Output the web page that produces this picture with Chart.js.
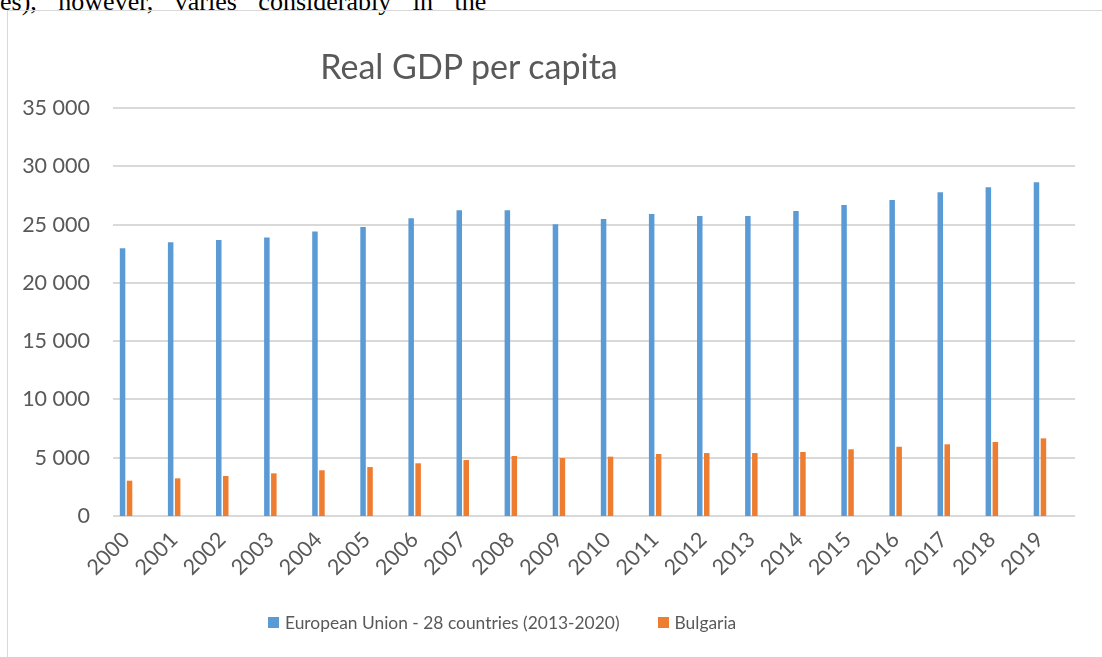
<!DOCTYPE html>
<html>
<head>
<meta charset="utf-8">
<script src="https://cdn.jsdelivr.net/npm/chart.js@4"></script>
<style>
  html, body { margin: 0; padding: 0; background: #fff; }
  body { width: 1102px; height: 657px; position: relative; overflow: hidden; }
  .doc-text {
    position: absolute; left: 0; top: -13px; white-space: nowrap; line-height: 30px;
    font-family: "Liberation Serif", serif; font-size: 26px; word-spacing: 15px; color: #000;
  }
  .frame { position: absolute; left: 7px; top: 10px; width: 1110px; height: 660px; border: 1px solid #d9d9d9; }
  .chart-box { position: absolute; left: 0; top: 0; width: 1102px; height: 657px; }
  .title {
    position: absolute; left: 469px; top: 45px; transform: translateX(-50%);
    font-family: Lato, sans-serif; font-size: 34px; color: #595959; white-space: nowrap;
  }
  .legend {
    position: absolute; left: 268px; top: 612px; display: flex; align-items: center;
    font-family: Lato, sans-serif; font-size: 17.4px; color: #595959; white-space: nowrap;
  }
  .legend .item { display: flex; align-items: center; margin-right: 38px; }
  .legend .swatch { width: 11px; height: 11px; margin-right: 6px; }
</style>
</head>
<body>
<div class="doc-text">es), however, varies considerably in the</div>
<div class="frame"></div>
<div class="chart-box"><canvas id="gdp"></canvas></div>
<div class="title">Real GDP per capita</div>
<div class="legend" id="legend"></div>
<script>
// data
const years = ['2000', '2001', '2002', '2003', '2004', '2005', '2006', '2007', '2008', '2009',
               '2010', '2011', '2012', '2013', '2014', '2015', '2016', '2017', '2018', '2019'];
const eu28 = [22960, 23480, 23680, 23900, 24400, 24790, 25540, 26220, 26220, 25030,
              25480, 25910, 25740, 25740, 26160, 26680, 27110, 27770, 28200, 28630];
const bulgaria = [3030, 3230, 3430, 3660, 3920, 4200, 4520, 4800, 5150, 4970,
                  5090, 5320, 5400, 5400, 5490, 5720, 5940, 6150, 6350, 6660];
const seriesNames = ['European Union - 28 countries (2013-2020)', 'Bulgaria'];
const seriesColors = ['#5B9BD5', '#ED7D31'];
const yTicks = [0, 5000, 10000, 15000, 20000, 25000, 30000, 35000];

const textColor = '#595959';
const fontFamily = 'Lato, sans-serif';
const GRID_SHIFT = 11; // excel draws gridlines a bit to the right of the bars

function fmt(v) {
  return String(v).replace(/\B(?=(\d{3})+(?!\d))/g, ' ');
}

// horizontal gridlines, drawn from the y scale ticks
const shiftedGrid = {
  id: 'shiftedGrid',
  beforeDatasetsDraw(chart) {
    const {ctx, chartArea, scales} = chart;
    ctx.save();
    ctx.strokeStyle = '#d9d9d9';
    ctx.lineWidth = 2;
    scales.y.ticks.forEach(t => {
      const py = Math.round(scales.y.getPixelForValue(t.value));
      ctx.beginPath();
      ctx.moveTo(chartArea.left + GRID_SHIFT, py);
      ctx.lineTo(chartArea.right + GRID_SHIFT, py);
      ctx.stroke();
    });
    ctx.restore();
  }
};

const chart = new Chart(document.getElementById('gdp'), {
  type: 'bar',
  data: {
    labels: years,
    datasets: [
      {
        label: seriesNames[0],
        backgroundColor: seriesColors[0],
        data: eu28,
        categoryPercentage: 0.29,
        barPercentage: 0.79
      },
      {
        label: seriesNames[1],
        backgroundColor: seriesColors[1],
        data: bulgaria,
        categoryPercentage: 0.29,
        barPercentage: 0.79
      }
    ]
  },
  options: {
    responsive: true,
    maintainAspectRatio: false,
    animation: false,
    layout: {
      padding: {left: 0, right: 38, top: 108, bottom: 0}
    },
    plugins: {
      legend: {display: false},
      title: {display: false},
      tooltip: {enabled: false}
    },
    scales: {
      x: {
        grid: {display: false, drawTicks: false},
        border: {display: false},
        ticks: {
          color: textColor,
          font: {family: fontFamily, size: 21.5},
          minRotation: 45,
          maxRotation: 45,
          padding: 11
        },
        afterFit: (scale) => { scale.height = 141; }
      },
      y: {
        min: 0,
        max: 35000,
        grid: {display: false, drawTicks: false},
        border: {display: false},
        afterBuildTicks: (scale) => { scale.ticks = yTicks.map(v => ({value: v})); },
        ticks: {
          color: textColor,
          font: {family: fontFamily, size: 21.5},
          padding: 12,
          callback: (v) => fmt(v)
        },
        afterFit: (scale) => { scale.width = 102; }
      }
    }
  },
  plugins: [shiftedGrid]
});

// legend as html, from the dataset names and colours
const legendEl = document.getElementById('legend');
chart.data.datasets.forEach(ds => {
  const item = document.createElement('div');
  item.className = 'item';
  const sw = document.createElement('span');
  sw.className = 'swatch';
  sw.style.background = ds.backgroundColor;
  const label = document.createElement('span');
  label.textContent = ds.label;
  item.appendChild(sw);
  item.appendChild(label);
  legendEl.appendChild(item);
});
</script>
</body>
</html>
